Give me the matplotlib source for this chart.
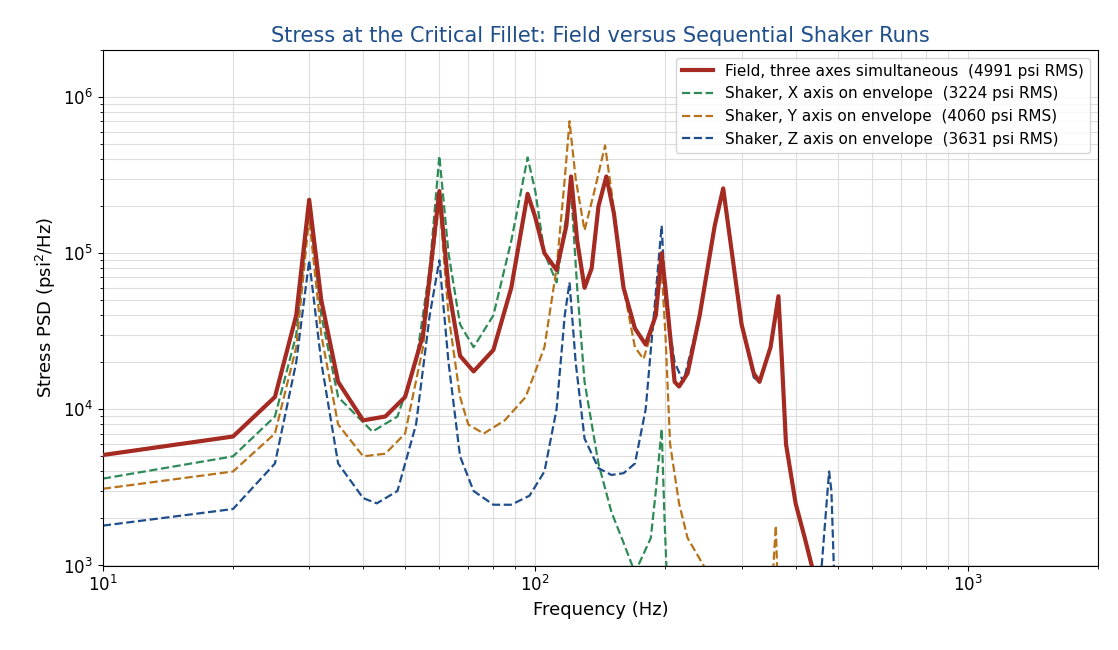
import numpy as np
import matplotlib
matplotlib.use("Agg")
import matplotlib.pyplot as plt

field_f = [10,20,25,28,30,32,35,40,45,50,55,60,63,67,72,80,88,96,100,105,112,118,121,125,130,135,140,146,152,160,170,180,190,196,200,210,215,225,240,260,272,285,300,320,330,350,365,372,380,400,420,440]
field_p = [5100,6700,12000,40000,220000,50000,15000,8500,9000,12000,30000,250000,60000,22000,17500,24000,60000,240000,170000,100000,78000,150000,310000,120000,60000,80000,200000,310000,180000,60000,33000,26000,40000,100000,60000,15000,14000,17000,40000,150000,260000,100000,35000,17000,15000,25000,53000,20000,6000,2500,1500,900]

x_f = [10,20,25,28,30,32,35,42,48,53,57,60,63,67,72,80,88,96,100,105,112,117,121,125,130,140,150,160,170,185,190,196,199,203]
x_p = [3600,5000,9000,30000,200000,40000,12000,7200,9000,20000,80000,420000,100000,35000,25000,40000,120000,410000,250000,100000,65000,150000,250000,60000,15000,4500,2200,1400,900,1500,3000,7500,2000,500]

y_f = [10,20,25,28,30,32,35,40,45,50,55,60,63,67,70,76,85,95,105,112,117,120,124,130,137,145,150,160,170,178,188,195,200,205,215,225,245,260,350,360,365]
y_p = [3100,4000,7000,25000,170000,30000,8000,5000,5200,7000,25000,220000,40000,12000,8000,7000,8500,12000,25000,80000,300000,700000,300000,140000,250000,490000,250000,60000,25000,21000,35000,100000,30000,6000,2500,1500,1000,700,500,1800,500]

z_f = [10,20,25,28,30,32,35,40,43,48,53,57,60,63,67,72,80,88,97,105,112,117,120,124,130,140,150,160,170,180,188,196,200,210,220,240,260,272,285,300,320,330,350,365,372,380,400,420,440,455,478,484,494]
z_p = [1800,2300,4500,20000,90000,20000,4500,2700,2500,3000,8000,40000,90000,20000,5000,3000,2450,2450,2800,4000,10000,40000,65000,20000,6500,4200,3800,3900,4500,10000,40000,150000,50000,20000,15000,40000,150000,255000,100000,35000,16000,15000,25000,50000,20000,6000,2500,1500,900,700,4000,3000,500]

fig, ax = plt.subplots(figsize=(11.18, 6.5), dpi=100)
ax.loglog(field_f, field_p, color="#a52a22", lw=3, label="Field, three axes simultaneous  (4991 psi RMS)", zorder=5)
ax.loglog(x_f, x_p, "--", color="#2e8b57", lw=1.6, label="Shaker, X axis on envelope  (3224 psi RMS)")
ax.loglog(y_f, y_p, "--", color="#b8731a", lw=1.6, label="Shaker, Y axis on envelope  (4060 psi RMS)")
ax.loglog(z_f, z_p, "--", color="#1f4e8c", lw=1.6, label="Shaker, Z axis on envelope  (3631 psi RMS)")
ax.set_xlim(10, 2000)
ax.set_ylim(1e3, 2e6)
ax.grid(True, which="both", color="#dddddd", lw=0.8)
ax.set_xlabel("Frequency (Hz)", fontsize=13)
ax.set_ylabel("Stress PSD (psi$^2$/Hz)", fontsize=13)
ax.set_title("Stress at the Critical Fillet: Field versus Sequential Shaker Runs", fontsize=15, color="#1f4e8c")
ax.tick_params(labelsize=12)
ax.legend(loc="upper right", fontsize=11)
plt.subplots_adjust(left=0.092, right=0.982, top=0.923, bottom=0.13)
fig.savefig("out.png")
